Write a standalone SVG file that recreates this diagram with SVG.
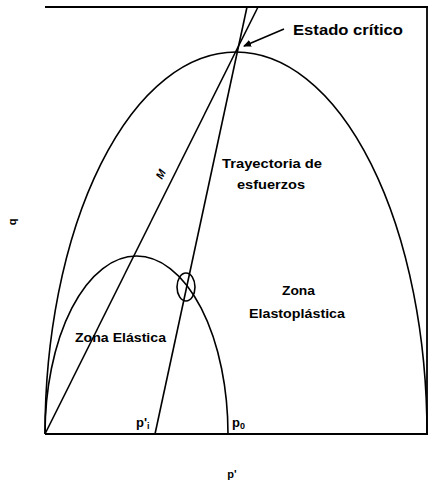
<svg xmlns="http://www.w3.org/2000/svg" width="428" height="487" viewBox="0 0 428 487">
<defs>
<style>
.ln{fill:none;stroke:#000;stroke-width:1.6}
.fr{fill:none;stroke:#000;stroke-width:1.8}
.t{font-family:"Liberation Sans",Arial,sans-serif;font-weight:bold;fill:#000}
</style>
<marker id="ah" markerWidth="8" markerHeight="8" refX="7" refY="4" orient="auto" markerUnits="userSpaceOnUse">
<path d="M0,0.5 L8,4 L0,7.5 z" fill="#000"/>
</marker>
</defs>
<rect width="428" height="487" fill="#fff"/>
<g id="frame">
<path class="fr" d="M45,7 H428 M427,7 V434 M45,434 H428"/>
</g>
<g id="connectors">
<path id="fluencia-grande" class="ln" d="M45,434 A191,382 0 0 1 427,434"/>
<path id="fluencia-pequena" class="ln" d="M45,434 A91.5,178 0 0 1 228,434"/>
<line id="linea-M" class="ln" x1="45" y1="434" x2="258" y2="7"/>
<line id="trayectoria" class="ln" x1="155" y1="434" x2="247" y2="7"/>
<line id="flecha" class="ln" x1="284" y1="29" x2="244" y2="46" marker-end="url(#ah)"/>
<ellipse id="circulo" class="ln" cx="186" cy="287" rx="9" ry="14" stroke-width="1.2"/>
</g>
<g id="estado-critico"><text class="t" x="293" y="35" font-size="14" textLength="110" lengthAdjust="spacingAndGlyphs">Estado crítico</text></g>
<g id="trayectoria-label">
<text class="t" x="222" y="168" font-size="13" textLength="100" lengthAdjust="spacingAndGlyphs">Trayectoria de</text>
<text class="t" x="237" y="189" font-size="13" textLength="68" lengthAdjust="spacingAndGlyphs">esfuerzos</text>
</g>
<g id="zona-elastoplastica">
<text class="t" x="282" y="295" font-size="13" textLength="33" lengthAdjust="spacingAndGlyphs">Zona</text>
<text class="t" x="249" y="318" font-size="13" textLength="96" lengthAdjust="spacingAndGlyphs">Elastoplástica</text>
</g>
<g id="zona-elastica"><text class="t" x="75" y="342" font-size="12" textLength="91" lengthAdjust="spacingAndGlyphs">Zona Elástica</text></g>
<g id="M-label"><text class="t" x="0" y="0" font-size="11" font-style="italic" transform="translate(162,180) rotate(-63)">M</text></g>
<g id="p-labels">
<text class="t" x="136" y="427" font-size="13">p'<tspan font-size="9" dy="2">i</tspan></text>
<text class="t" x="232" y="427" font-size="13">p<tspan font-size="9" dy="2">0</tspan></text>
</g>
<g id="ejes">
<text class="t" x="0" y="0" font-size="11" transform="translate(16,222) rotate(-90)" text-anchor="middle">q</text>
<text class="t" x="232" y="478" font-size="11" text-anchor="middle">p'</text>
</g>
</svg>
